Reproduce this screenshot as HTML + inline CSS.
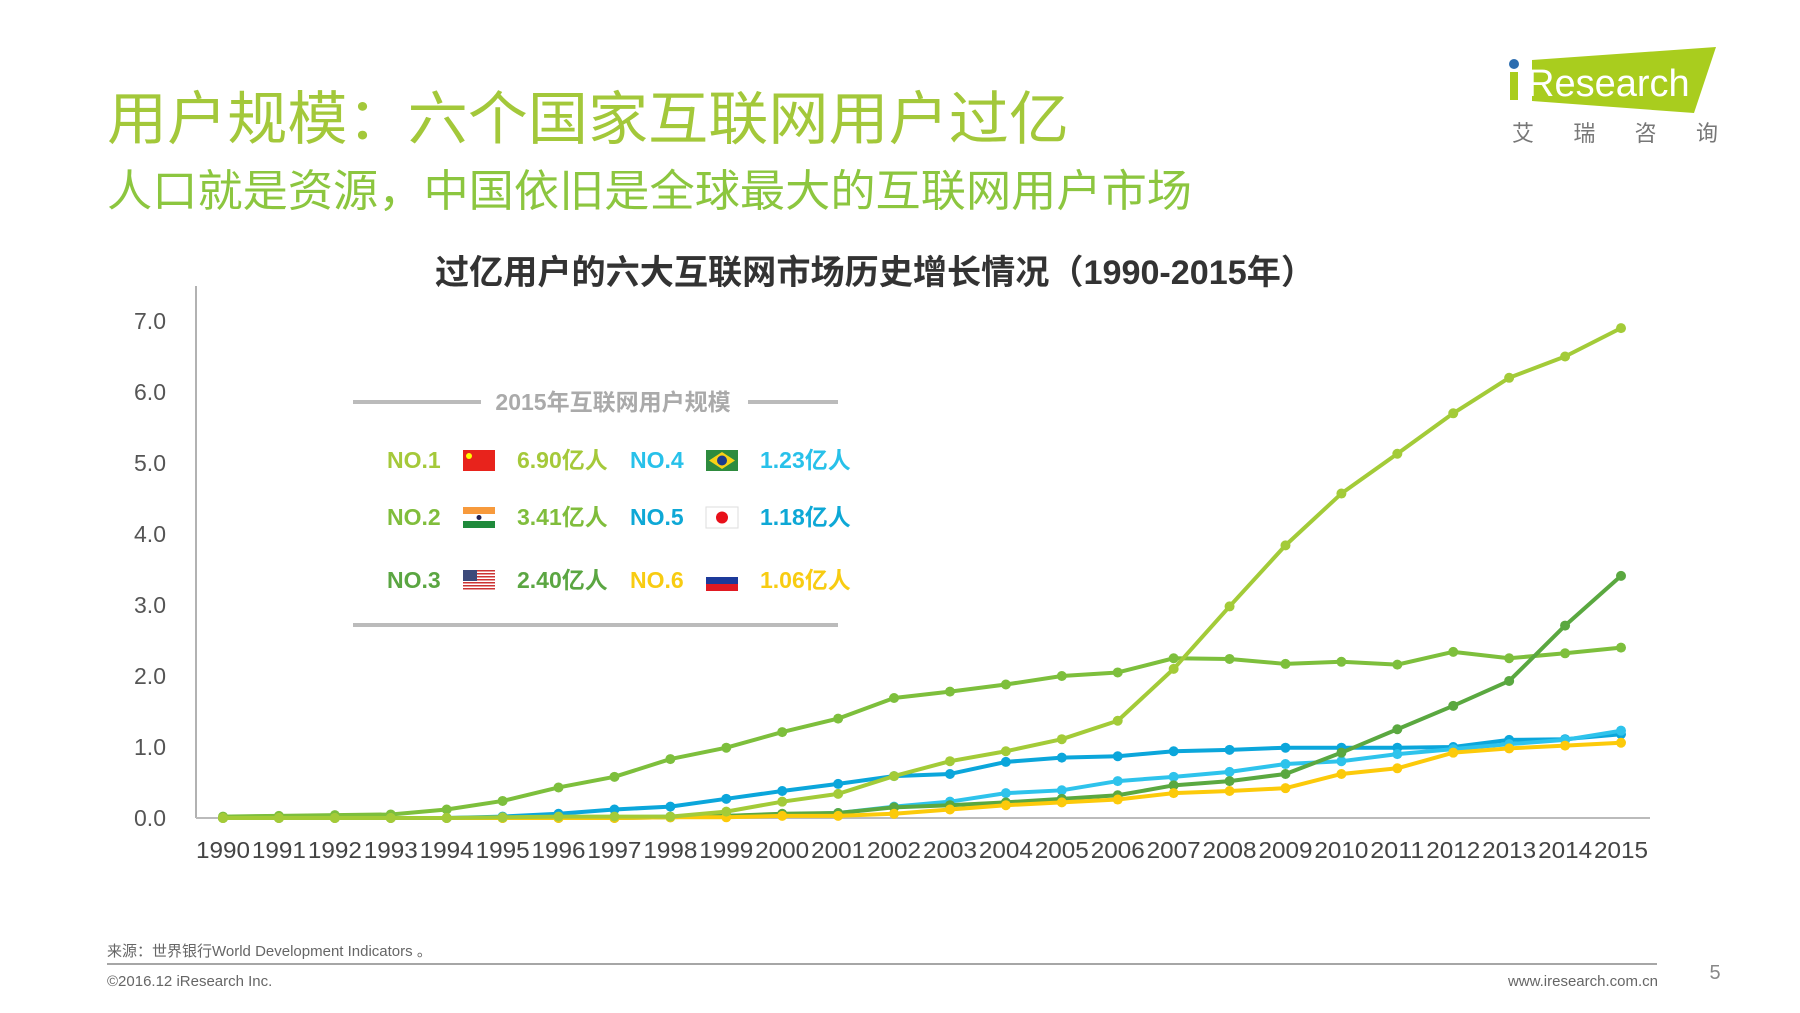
<!DOCTYPE html>
<html><head><meta charset="utf-8"><style>
html,body{margin:0;padding:0;background:#fff;}
svg{display:block;font-family:"Liberation Sans","Noto Sans CJK SC",sans-serif;}
</style></head><body>
<svg id="page" width="1800" height="1013" viewBox="0 0 1800 1013">
<text x="107" y="139" font-size="58" fill="#a3c83a" textLength="962" lengthAdjust="spacingAndGlyphs">用户规模：六个国家互联网用户过亿</text>
<text x="107" y="206" font-size="44" fill="#8cc63f" textLength="1085" lengthAdjust="spacingAndGlyphs">人口就是资源，中国依旧是全球最大的互联网用户市场</text>
<g>
<polygon points="1532,60 1716,47 1694,113 1532,101" fill="#a9cd1e"/>
<rect x="1510" y="72" width="8" height="28" fill="#a9cd1e"/>
<circle cx="1514" cy="64" r="5" fill="#2b6db0"/>
<text x="1527" y="96" font-size="38" fill="#fff">Research</text>
<text x="1512" y="141" font-size="22" fill="#777" textLength="206" lengthAdjust="spacing">艾瑞咨询</text>
</g>
<text x="875" y="284" font-size="34" font-weight="bold" fill="#333" text-anchor="middle" textLength="880" lengthAdjust="spacingAndGlyphs">过亿用户的六大互联网市场历史增长情况（1990-2015年）</text>
<g id="chart"></g>
<g>
<line x1="353" y1="402" x2="481" y2="402" stroke="#bbb" stroke-width="4"/>
<line x1="748" y1="402" x2="838" y2="402" stroke="#bbb" stroke-width="4"/>
<text x="613" y="410" font-size="23" font-weight="bold" fill="#aaa" text-anchor="middle">2015年互联网用户规模</text>
<line x1="353" y1="625" x2="838" y2="625" stroke="#bbb" stroke-width="4"/>
</g>
<g id="legend"></g>
<text x="107" y="956" font-size="15" fill="#666">来源：世界银行World Development Indicators 。</text>
<line x1="107" y1="964" x2="1657" y2="964" stroke="#888" stroke-width="1.5"/>
<text x="107" y="986" font-size="15" fill="#666">©2016.12 iResearch Inc.</text>
<text x="1658" y="986" font-size="15" fill="#666" text-anchor="end">www.iresearch.com.cn</text>
<text x="1715" y="979" font-size="20" fill="#888" text-anchor="middle">5</text>
</svg>
<script>
const years = [1990,1991,1992,1993,1994,1995,1996,1997,1998,1999,2000,2001,2002,2003,2004,2005,2006,2007,2008,2009,2010,2011,2012,2013,2014,2015];
const yTicks = [0,1,2,3,4,5,6,7];
const seriesNames = ['china','usa','india','japan','brazil','russia'];
const china = [0,0,0,0,0,0.01,0.02,0.02,0.02,0.09,0.23,0.34,0.59,0.8,0.94,1.11,1.37,2.1,2.98,3.84,4.57,5.13,5.7,6.2,6.5,6.9];
const usa = [0.02,0.03,0.04,0.05,0.12,0.24,0.43,0.58,0.83,0.99,1.21,1.4,1.69,1.78,1.88,2.0,2.05,2.25,2.24,2.17,2.2,2.16,2.34,2.25,2.32,2.4];
const india = [0,0,0,0,0,0,0,0,0.01,0.03,0.06,0.07,0.15,0.18,0.22,0.27,0.32,0.46,0.52,0.62,0.92,1.25,1.58,1.93,2.71,3.41];
const japan = [0,0,0,0,0,0.02,0.06,0.12,0.16,0.27,0.38,0.48,0.59,0.62,0.79,0.85,0.87,0.94,0.96,0.99,0.99,0.99,1.0,1.1,1.11,1.18];
const brazil = [0,0,0,0,0,0,0.01,0.01,0.02,0.03,0.05,0.07,0.16,0.23,0.35,0.39,0.52,0.58,0.65,0.76,0.8,0.9,0.97,1.04,1.1,1.23];
const russia = [0,0,0,0,0,0,0,0,0.01,0.01,0.03,0.03,0.06,0.12,0.18,0.22,0.26,0.35,0.38,0.42,0.62,0.7,0.92,0.98,1.02,1.06];
const ranks = ['NO.1','NO.2','NO.3','NO.4','NO.5','NO.6'];
const legendValues = ['6.90亿人','3.41亿人','2.40亿人','1.23亿人','1.18亿人','1.06亿人'];

const NS='http://www.w3.org/2000/svg';
const X0=223, X1=1621, Y0=818, PX=71;
const xs=i=>X0+(X1-X0)*i/(years.length-1);
const ys=v=>Y0-v*PX;
function mk(tag,attrs,parent){const e=document.createElementNS(NS,tag);for(const k in attrs)e.setAttribute(k,attrs[k]);parent.appendChild(e);return e;}
const chart=document.getElementById('chart');
const ax=mk('line',{x1:196,y1:286,x2:196,y2:Y0,stroke:'#999','stroke-width':1.5},chart);


const bx=mk('line',{x1:196,y1:Y0,x2:1650,y2:Y0,stroke:'#bbb','stroke-width':2},chart);


yTicks.forEach(t=>{const e=mk('text',{x:166,y:ys(t)+8,'font-size':23,fill:'#555','text-anchor':'end'},chart);e.textContent=t.toFixed(1);

});
years.forEach((y,i)=>{const e=mk('text',{x:xs(i),y:858,'font-size':23,fill:'#444','text-anchor':'middle',textLength:54,lengthAdjust:'spacingAndGlyphs'},chart);e.textContent=y;

});
const seriesData={china,usa,india,japan,brazil,russia};
const colors={china:'#a3cb38',usa:'#7dbf3c',india:'#5aa840',japan:'#0ba6db',brazil:'#2ec3ec',russia:'#fcca0a'};
const order=['usa','japan','brazil','india','russia','china'];
order.forEach(n=>{const d=seriesData[n];const g=mk('g',{},chart);


const p=mk('polyline',{points:d.map((v,i)=>xs(i)+','+ys(v)).join(' '),fill:'none',stroke:colors[n],'stroke-width':4,'stroke-linejoin':'round'},g);


d.forEach((v,i)=>{const c=mk('circle',{cx:xs(i),cy:ys(v),r:5,fill:colors[n]},g);

});});

const leg=document.getElementById('legend');
const legColors=['#a5c93a','#80bd3c','#5ba642','#28c1ea','#0ea8d6','#f8cc12'];
const legFlags=['china','india','usa','brazil','japan','russia'];
const rowY=[460,517,580];
function flag(kind,x,y,p){const g=mk('g',{},p);const w=32,h=21;
if(kind==='china'){mk('rect',{x,y,width:w,height:h,fill:'#e8231c'},g);mk('circle',{cx:x+6,cy:y+6,r:3,fill:'#ff0'},g);}
else if(kind==='india'){mk('rect',{x,y,width:w,height:7,fill:'#f79a3c'},g);mk('rect',{x,y:y+7,width:w,height:7,fill:'#fff'},g);mk('rect',{x,y:y+14,width:w,height:7,fill:'#1f8a3b'},g);mk('circle',{cx:x+16,cy:y+10.5,r:2.5,fill:'#225'},g);}
else if(kind==='usa'){for(let k=0;k<7;k++)mk('rect',{x,y:y+k*3,width:w,height:1.5,fill:'#c33'},g);mk('rect',{x,y,width:14,height:11,fill:'#3c4a7a'},g);}
else if(kind==='brazil'){mk('rect',{x,y,width:w,height:h,fill:'#2e8b3e'},g);mk('polygon',{points:`${x+3},${y+10.5} ${x+16},${y+2} ${x+29},${y+10.5} ${x+16},${y+19}`,fill:'#f7d117'},g);mk('circle',{cx:x+16,cy:y+10.5,r:5,fill:'#1c3b8c'},g);}
else if(kind==='japan'){mk('rect',{x,y,width:w,height:h,fill:'#fff',stroke:'#ddd'},g);mk('circle',{cx:x+16,cy:y+10.5,r:6,fill:'#e8101a'},g);}
else {mk('rect',{x,y,width:w,height:7,fill:'#fff'},g);mk('rect',{x,y:y+7,width:w,height:7,fill:'#1c3a9a'},g);mk('rect',{x,y:y+14,width:w,height:7,fill:'#e01a22'},g);}
return g;}
ranks.forEach((r,i)=>{const col=i<3?0:1;const y=rowY[i%3];const bx0=col?630:387;
const g=mk('g',{},leg);


const t=mk('text',{x:bx0,y:y+8,'font-size':23,'font-weight':'bold',fill:legColors[i]},g);t.textContent=r;
flag(legFlags[i],bx0+76,y-10,g);
const v=mk('text',{x:bx0+130,y:y+8,'font-size':23,'font-weight':'bold',fill:legColors[i]},g);v.textContent=legendValues[i];});
</script>
</body></html>
